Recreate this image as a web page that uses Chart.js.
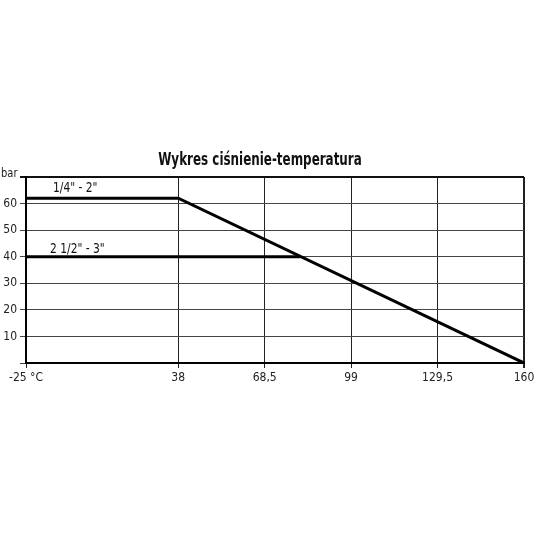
<!DOCTYPE html>
<html>
<head>
<meta charset="utf-8">
<script src="https://cdn.jsdelivr.net/npm/chart.js@4/dist/chart.umd.min.js"></script>
<style>
  html, body { margin: 0; padding: 0; background: #fff; }
  #wrap { width: 540px; height: 540px; }
</style>
</head>
<body>
<div id="wrap"><canvas id="myChart" width="540" height="540"></canvas></div>
<script>
// dane
var seriesNames = ['1/4" - 2"', '2 1/2" - 3"'];
var smallTemps = [-25, 38, 160];
var smallBars = [62, 62, 0];
var bigTemps = [-25, 81];
var bigBars = [40, 40];
var xTicks = [-25, 38, 68.5, 99, 129.5, 160];
var xTickLabels = ['-25 °C', '38', '68,5', '99', '129,5', '160'];
var yTicks = [0, 10, 20, 30, 40, 50, 60, 70];
var yTickLabels = ['', '10', '20', '30', '40', '50', '60', ''];
var yUnit = 'bar';
var title = 'Wykres ciśnienie-temperatura';

var FONT = '"DejaVu Sans Condensed", "Liberation Sans Narrow", sans-serif';

// os X na oryginale nie jest liniowa: odcinek -25..38 jest krotszy
class BrokenScale extends Chart.LinearScale {
  getPixelForValue(value) {
    if (value === null || value === undefined) return NaN;
    var br = this.options.breaks;
    var d = 0;
    for (var i = 0; i < br.length - 1; i++) {
      var a = br[i], b = br[i + 1];
      if (value <= b[0] || i === br.length - 2) {
        d = a[1] + (value - a[0]) / (b[0] - a[0]) * (b[1] - a[1]);
        break;
      }
    }
    return this.getPixelForDecimal(d);
  }
}
BrokenScale.id = 'broken';
BrokenScale.defaults = Chart.LinearScale.defaults;
Chart.register(BrokenScale);

// tekst zwezony w poziomie, zeby przypominal waski krój z oryginalu
function narrowText(c, txt, x, y, sx, align) {
  c.save();
  c.translate(x, y);
  c.scale(sx, 1);
  c.textAlign = align;
  c.fillText(txt, 0, 0);
  c.restore();
}

var labelsPlugin = {
  id: 'labelsPlugin',
  afterDraw: function (chart) {
    var c = chart.ctx, xs = chart.scales.x, ys = chart.scales.y;
    c.save();
    c.fillStyle = '#111';
    c.textBaseline = 'alphabetic';
    c.font = 'bold 17px ' + FONT;
    narrowText(c, title, 260, 165, 0.78, 'center');
    c.font = '14px ' + FONT;
    narrowText(c, seriesNames[0], xs.left + 27, ys.getPixelForValue(smallBars[0]) - 6, 0.85, 'left');
    narrowText(c, seriesNames[1], xs.left + 24, ys.getPixelForValue(bigBars[0]) - 4, 0.85, 'left');
    c.font = '13px ' + FONT;
    c.fillStyle = '#222';
    narrowText(c, yUnit, 1, ys.top - 0, 0.85, 'left');
    c.restore();
  }
};

new Chart(document.getElementById('myChart'), {
  type: 'line',
  data: {
    datasets: [{
      label: seriesNames[0],
      data: smallTemps.map(function (t, i) { return { x: t, y: smallBars[i] }; }),
      borderColor: '#000',
      borderWidth: 3,
      pointRadius: 0,
      tension: 0
    }, {
      label: seriesNames[1],
      data: bigTemps.map(function (t, i) { return { x: t, y: bigBars[i] }; }),
      borderColor: '#000',
      borderWidth: 3,
      pointRadius: 0,
      tension: 0
    }]
  },
  options: {
    responsive: false,
    animation: false,
    layout: { padding: { top: 177, right: 16, left: 0, bottom: 0 } },
    plugins: { legend: { display: false }, tooltip: { enabled: false } },
    scales: {
      x: {
        type: 'broken',
        min: -25,
        max: 160,
        breaks: [[-25, 0], [38, 0.3057], [160, 1]],
        afterBuildTicks: function (s) { s.ticks = xTicks.map(function (v) { return { value: v }; }); },
        afterFit: function (s) { s.height = 177; },
        ticks: {
          autoSkip: false,
          maxRotation: 0,
          padding: 3,
          color: '#222',
          font: { family: FONT, size: 12 },
          callback: function (v, i) { return xTickLabels[i]; }
        },
        grid: {
          color: '#222',
          lineWidth: function (ctx) { return ctx.tick && ctx.tick.value === 160 ? 2 : 1; },
          tickLength: 5
        },
        border: { color: '#000', width: 2 }
      },
      y: {
        min: 0,
        max: 70,
        afterBuildTicks: function (s) { s.ticks = yTicks.map(function (v) { return { value: v }; }); },
        afterFit: function (s) { s.width = 26; },
        ticks: {
          padding: 3,
          color: '#222',
          font: { family: FONT, size: 12 },
          callback: function (v, i) { return yTickLabels[i]; }
        },
        grid: {
          color: function (ctx) { return ctx.tick && ctx.tick.value === 70 ? '#111' : '#444'; },
          lineWidth: function (ctx) { return ctx.tick && ctx.tick.value === 70 ? 2 : 1; },
          tickLength: 6
        },
        border: { color: '#000', width: 2 }
      }
    }
  },
  plugins: [labelsPlugin]
});
</script>
</body>
</html>
